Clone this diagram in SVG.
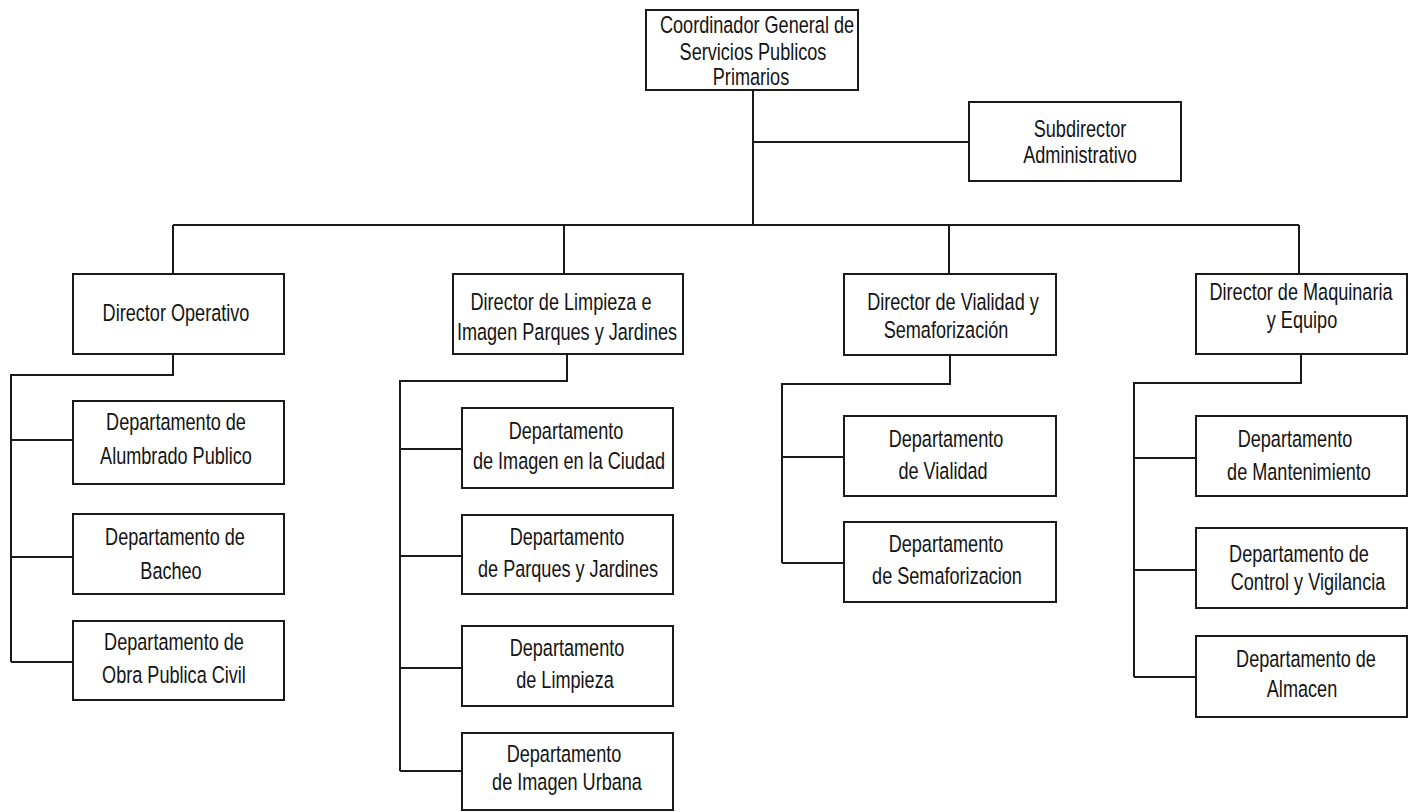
<svg xmlns="http://www.w3.org/2000/svg" width="1413" height="812" viewBox="0 0 1413 812">
<style>
.box{fill:#fff;stroke:#1a1a1a;stroke-width:2}
.ln{fill:none;stroke:#1a1a1a;stroke-width:2}
.t{font-family:"Liberation Sans",Arial,sans-serif;font-size:23.5px;fill:#141414;text-anchor:middle}
</style>
<rect x="0" y="0" width="1413" height="812" fill="#fff"/>
<g id="connectors">
<path class="ln" d="M753 90V225M753 142H969M173 225H1299M173 225V274M564 225V274M949 225V274M1299 225V274"/>
<path class="ln" d="M173 354V375H11V662M11 440H73M11 557H73M11 662H73"/>
<path class="ln" d="M567 354V381H400V771M400 449H462M400 556H462M400 668H462M400 771H462"/>
<path class="ln" d="M950 355V384H782V563M782 457H844M782 563H844"/>
<path class="ln" d="M1301 354V383H1134V677M1134 458H1196M1134 570H1196M1134 677H1196"/>
</g>
<g id="coord"><rect class="box" x="646" y="10" width="212" height="80"/>
<text class="t" transform="translate(757 33) scale(0.77 1)">Coordinador General de</text>
<text class="t" transform="translate(753 60) scale(0.77 1)">Servicios Publicos</text>
<text class="t" transform="translate(751 85) scale(0.77 1)">Primarios</text></g>
<g id="subdir"><rect class="box" x="969" y="102" width="212" height="79"/>
<text class="t" transform="translate(1080 137) scale(0.77 1)">Subdirector</text>
<text class="t" transform="translate(1080 163) scale(0.77 1)">Administrativo</text></g>
<g id="dirop"><rect class="box" x="73" y="274" width="211" height="80"/>
<text class="t" transform="translate(176 321) scale(0.77 1)">Director Operativo</text></g>
<g id="alumbrado"><rect class="box" x="73" y="401" width="211" height="83"/>
<text class="t" transform="translate(176 430) scale(0.77 1)">Departamento de</text>
<text class="t" transform="translate(176 464) scale(0.77 1)">Alumbrado Publico</text></g>
<g id="bacheo"><rect class="box" x="73" y="514" width="211" height="80"/>
<text class="t" transform="translate(175 545) scale(0.77 1)">Departamento de</text>
<text class="t" transform="translate(171 579) scale(0.77 1)">Bacheo</text></g>
<g id="obra"><rect class="box" x="73" y="621" width="211" height="79"/>
<text class="t" transform="translate(174 650) scale(0.77 1)">Departamento de</text>
<text class="t" transform="translate(174 683) scale(0.77 1)">Obra Publica Civil</text></g>
<g id="dirlimp"><rect class="box" x="453" y="274" width="230" height="80"/>
<text class="t" transform="translate(561 310) scale(0.77 1)">Director de Limpieza e</text>
<text class="t" transform="translate(567 340) scale(0.77 1)">Imagen Parques y Jardines</text></g>
<g id="imgciudad"><rect class="box" x="462" y="408" width="211" height="80"/>
<text class="t" transform="translate(566 439) scale(0.77 1)">Departamento</text>
<text class="t" transform="translate(569 469) scale(0.77 1)">de Imagen en la Ciudad</text></g>
<g id="parques"><rect class="box" x="462" y="515" width="211" height="79"/>
<text class="t" transform="translate(567 545) scale(0.77 1)">Departamento</text>
<text class="t" transform="translate(568 577) scale(0.77 1)">de Parques y Jardines</text></g>
<g id="limpieza"><rect class="box" x="462" y="626" width="211" height="80"/>
<text class="t" transform="translate(567 656) scale(0.77 1)">Departamento</text>
<text class="t" transform="translate(565 688) scale(0.77 1)">de Limpieza</text></g>
<g id="urbana"><rect class="box" x="462" y="733" width="211" height="77"/>
<text class="t" transform="translate(564 762) scale(0.77 1)">Departamento</text>
<text class="t" transform="translate(567 790) scale(0.77 1)">de Imagen Urbana</text></g>
<g id="dirvial"><rect class="box" x="844" y="274" width="212" height="81"/>
<text class="t" transform="translate(953 310) scale(0.77 1)">Director de Vialidad y</text>
<text class="t" transform="translate(946 338) scale(0.77 1)">Semaforización</text></g>
<g id="vialidad"><rect class="box" x="844" y="416" width="212" height="80"/>
<text class="t" transform="translate(946 447) scale(0.77 1)">Departamento</text>
<text class="t" transform="translate(943 479) scale(0.77 1)">de Vialidad</text></g>
<g id="semaf"><rect class="box" x="844" y="522" width="212" height="80"/>
<text class="t" transform="translate(946 552) scale(0.77 1)">Departamento</text>
<text class="t" transform="translate(947 584) scale(0.77 1)">de Semaforizacion</text></g>
<g id="dirmaq"><rect class="box" x="1196" y="274" width="211" height="80"/>
<text class="t" transform="translate(1301 300) scale(0.77 1)">Director de Maquinaria</text>
<text class="t" transform="translate(1302 328) scale(0.77 1)">y Equipo</text></g>
<g id="mant"><rect class="box" x="1196" y="416" width="211" height="80"/>
<text class="t" transform="translate(1295 447) scale(0.77 1)">Departamento</text>
<text class="t" transform="translate(1299 480) scale(0.77 1)">de Mantenimiento</text></g>
<g id="control"><rect class="box" x="1196" y="528" width="211" height="80"/>
<text class="t" transform="translate(1299 562) scale(0.77 1)">Departamento de</text>
<text class="t" transform="translate(1308 590) scale(0.77 1)">Control y Vigilancia</text></g>
<g id="almacen"><rect class="box" x="1196" y="636" width="211" height="81"/>
<text class="t" transform="translate(1306 667) scale(0.77 1)">Departamento de</text>
<text class="t" transform="translate(1302 697) scale(0.77 1)">Almacen</text></g>
</svg>
